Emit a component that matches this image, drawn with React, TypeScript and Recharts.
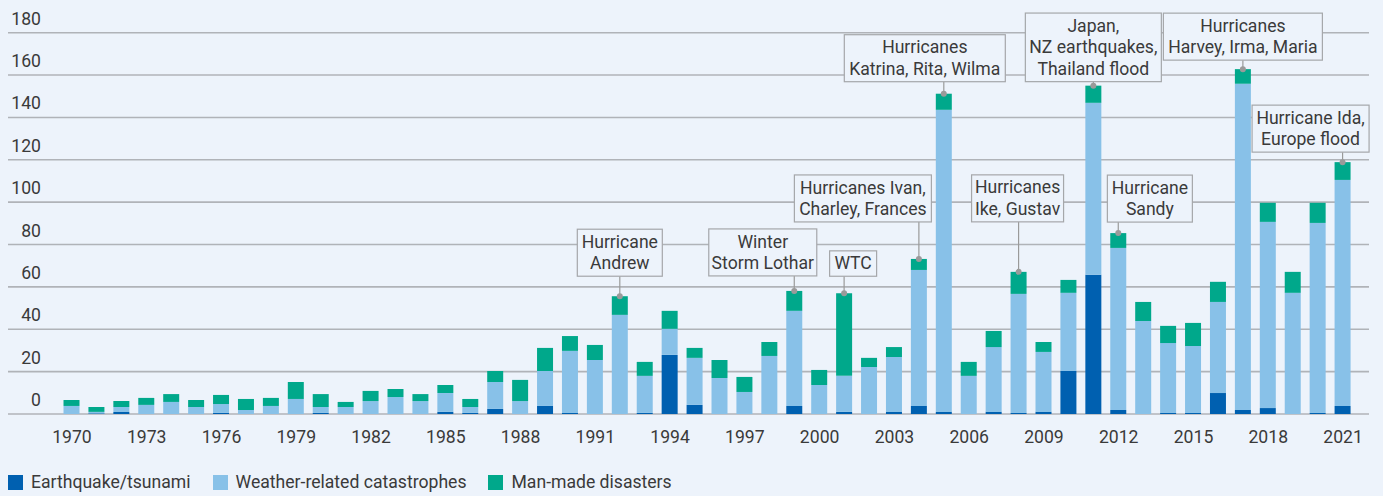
import { BarChart, Bar, XAxis, YAxis, CartesianGrid, LabelList } from "recharts";

const years = [
  1970, 1971, 1972, 1973, 1974, 1975, 1976, 1977, 1978, 1979, 1980, 1981, 1982,
  1983, 1984, 1985, 1986, 1987, 1988, 1989, 1990, 1991, 1992, 1993, 1994, 1995,
  1996, 1997, 1998, 1999, 2000, 2001, 2002, 2003, 2004, 2005, 2006, 2007, 2008,
  2009, 2010, 2011, 2012, 2013, 2014, 2015, 2016, 2017, 2018, 2019, 2020, 2021,
];

const earthquake = [
  0, 0.3, 1, 0, 0, 0, 0.5, 0, 0, 0, 0.5, 0, 0,
  0, 0, 1, 0.5, 2.4, 0, 3.8, 0.5, 0, 0, 0.5, 27.9, 4.3,
  0, 0, 0, 3.8, 0, 1, 0, 1, 3.8, 1, 0, 1, 0.5,
  1, 20.3, 65.7, 1.9, 0, 0.5, 0.5, 9.9, 1.9, 2.8, 0, 0.5, 3.8,
];

const weather = [
  3.8, 0.7, 2.3, 4.3, 5.7, 3.3, 4.2, 1.9, 3.8, 7.1, 2.8, 3.3, 6.1,
  8, 6.1, 8.9, 2.8, 12.7, 6.1, 16.5, 29.3, 25.5, 46.8, 17.5, 12.3, 22.2,
  17, 10.4, 27.4, 44.9, 13.7, 17, 22.2, 25.9, 64.2, 142.6, 18, 30.6, 56.2,
  28.3, 36.9, 81.2, 76.5, 43.9, 33, 31.6, 43, 154, 87.9, 57.2, 89.7, 106.7,
];

const manmade = [
  2.8, 2.3, 2.8, 3.3, 3.7, 3.3, 4.3, 5.2, 3.8, 8, 6.1, 2.4, 4.8,
  3.8, 3.3, 3.8, 3.8, 5.2, 10, 10.9, 7, 7.1, 8.8, 6.6, 8.5, 4.7,
  8.5, 7.1, 6.6, 9.4, 7.1, 39, 4.3, 4.7, 5.2, 7.6, 6.6, 7.6, 10.4,
  4.7, 6.1, 8.1, 7, 9, 8.1, 10.9, 9.5, 6.9, 9, 9.9, 9.5, 8.4,
];

const yTicks = [0, 20, 40, 60, 80, 100, 120, 140, 160, 180];

const seriesNames = ["Earthquake/tsunami", "Weather-related catastrophes", "Man-made disasters"];

// callout texts by year
const calloutText: Record<number, string[]> = {
  1992: ["Hurricane", "Andrew"],
  1999: ["Winter", "Storm Lothar"],
  2001: ["WTC"],
  2004: ["Hurricanes Ivan,", "Charley, Frances"],
  2005: ["Hurricanes", "Katrina, Rita, Wilma"],
  2008: ["Hurricanes", "Ike, Gustav"],
  2011: ["Japan,", "NZ earthquakes,", "Thailand flood"],
  2012: ["Hurricane", "Sandy"],
  2017: ["Hurricanes", "Harvey, Irma, Maria"],
  2021: ["Hurricane Ida,", "Europe flood"],
};

// box placement relative to the bar top: width, horizontal shift, gap above bar
const calloutPos: Record<number, { w: number; dx: number; gap: number }> = {
  1992: { w: 85, dx: 0, gap: 20 },
  1999: { w: 108, dx: -31.5, gap: 15 },
  2001: { w: 47, dx: 9, gap: 17 },
  2004: { w: 137, dx: -56, gap: 37 },
  2005: { w: 161, dx: -19, gap: 12 },
  2008: { w: 92, dx: -1, gap: 50 },
  2011: { w: 136, dx: 0, gap: 4 },
  2012: { w: 85, dx: 31.6, gap: 11 },
  2017: { w: 159, dx: 0, gap: 9 },
  2021: { w: 117, dx: -32, gap: 10 },
};

const BG = "#edf3fb";
const TEXT = "#3a3a3a";
const COLORS = ["#0060b0", "#88c1e8", "#00a88b"];
const FONT = "Roboto, 'Noto Sans', sans-serif";
const FS = 17.6;

const data = years.map((year, i) => ({
  year,
  eq: earthquake[i],
  weather: weather[i],
  manmade: manmade[i],
}));

const LINE_H = 21.6;

const Callout = (props: any) => {
  const { x, y, width, value } = props;
  const lines = calloutText[value];
  if (!lines) return null;
  const pos = calloutPos[value];
  const cx = x + width / 2;
  const h = lines.length * LINE_H + 3.8;
  const bottom = y - pos.gap;
  const top = bottom - h;
  const tx = cx + pos.dx;
  return (
    <g>
      <line x1={cx} x2={cx} y1={y} y2={bottom} stroke="#9a9a9a" strokeWidth={1.2} />
      <circle cx={cx} cy={y} r={3} fill="#9a9a9a" />
      <rect x={tx - pos.w / 2} y={top} width={pos.w} height={h} fill={BG} stroke="#a5a7aa" strokeWidth={1.2} />
      {lines.map((l, i) => (
        <text
          key={i}
          x={tx}
          y={top + 18.6 + i * LINE_H}
          textAnchor="middle"
          fontSize={FS}
          fontFamily={FONT}
          fill={TEXT}
        >
          {l}
        </text>
      ))}
    </g>
  );
};

const YTick = (props: any) => {
  const { y, payload } = props;
  return (
    <text x={41} y={y - 8} textAnchor="end" fontSize={FS} fontFamily={FONT} fill={TEXT}>
      {payload.value}
    </text>
  );
};

const XTick = (props: any) => {
  const { x, y, payload } = props;
  return (
    <text x={x} y={y + 29} textAnchor="middle" fontSize={FS} fontFamily={FONT} fill={TEXT}>
      {payload.value}
    </text>
  );
};

export default function App() {
  return (
    <div style={{ position: "absolute", left: 0, top: 0, width: 1383, height: 496, background: BG }}>
      <BarChart
        width={1383}
        height={496}
        data={data}
        margin={{ top: 32.7, right: 14, bottom: 42, left: 0 }}
        barSize={16}
      >
        <CartesianGrid vertical={false} stroke="#b0b3b8" strokeWidth={1.6} />
        <XAxis
          dataKey="year"
          interval={2}
          axisLine={false}
          tickLine={false}
          tickSize={0}
          tickMargin={0}
          height={40}
          padding={{ left: 51.5, right: 13.5 }}
          tick={<XTick />}
        />
        <YAxis
          width={8}
          domain={[0, 180]}
          ticks={yTicks}
          axisLine={false}
          tickLine={false}
          tick={<YTick />}
        />
        <Bar dataKey="eq" stackId="a" fill={COLORS[0]} isAnimationActive={false} />
        <Bar dataKey="weather" stackId="a" fill={COLORS[1]} isAnimationActive={false} />
        <Bar dataKey="manmade" stackId="a" fill={COLORS[2]} isAnimationActive={false}>
          <LabelList dataKey="year" content={<Callout />} />
        </Bar>
      </BarChart>
      {/* Legend */}
      <div
        style={{
          position: "absolute",
          left: 8,
          top: 472,
          display: "flex",
          alignItems: "center",
          fontFamily: FONT,
          fontSize: FS,
          color: TEXT,
        }}
      >
        {seriesNames.map((name, i) => (
          <div key={name} style={{ display: "flex", alignItems: "center", marginRight: 22 }}>
            <div style={{ width: 15, height: 15, background: COLORS[i], marginRight: 8 }} />
            <span>{name}</span>
          </div>
        ))}
      </div>
    </div>
  );
}
